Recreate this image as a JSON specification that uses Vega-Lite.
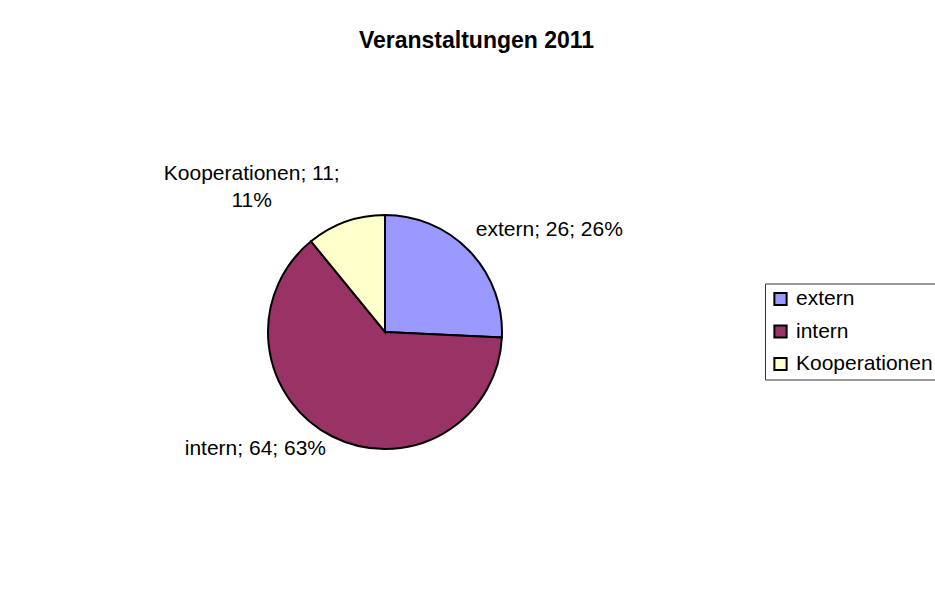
{
  "$schema": "https://vega.github.io/schema/vega-lite/v6.json",
  "autosize": "none",
  "width": 234,
  "height": 234,
  "padding": {"left": 268, "top": 215, "right": 433, "bottom": 140},
  "background": "white",
  "title": {
    "text": "Veranstaltungen 2011",
    "anchor": "middle",
    "frame": "group",
    "dx": 91.5,
    "offset": 110,
    "fontSize": 23,
    "fontWeight": "bold",
    "font": "Liberation Sans",
    "color": "black"
  },
  "data": {
    "values": [
      {"category": "extern", "n": 1, "value": 26, "label": "extern; 26; 26%", "label2": ""},
      {"category": "intern", "n": 2, "value": 64, "label": "intern; 64; 63%", "label2": ""},
      {"category": "Kooperationen", "n": 3, "value": 11, "label": "Kooperationen; 11;", "label2": "11%"}
    ]
  },
  "encoding": {
    "theta": {"field": "value", "type": "quantitative", "stack": true},
    "order": {"field": "n", "type": "quantitative"}
  },
  "layer": [
    {
      "mark": {"type": "arc", "stroke": "black", "strokeWidth": 2},
      "encoding": {
        "color": {
          "field": "category",
          "type": "nominal",
          "scale": {"domain": ["extern", "intern", "Kooperationen"], "range": ["#9999FF", "#993366", "#FFFFCC"]},
          "legend": {
            "orient": "none",
            "legendX": 497,
            "legendY": 68.5,
            "title": null,
            "strokeColor": "#333333",
            "padding": 5,
            "symbolType": "square",
            "symbolSize": 150,
            "symbolStrokeColor": "black",
            "symbolStrokeWidth": 2,
            "labelFontSize": 21,
            "labelFont": "Liberation Sans",
            "labelColor": "black",
            "labelOffset": 5,
            "rowPadding": 10.5,
            "labelLimit": 300
          }
        }
      }
    },
    {
      "mark": {"type": "text", "radius": 120, "align": "left", "baseline": "alphabetic", "dx": 4, "dy": -13, "fontSize": 21, "fill": "black"},
      "encoding": {
        "text": {"condition": {"test": "datum.category === 'extern'", "field": "label", "type": "nominal"}, "value": ""}
      }
    },
    {
      "mark": {"type": "text", "radius": 120, "align": "right", "baseline": "alphabetic", "dx": -5, "dy": 16, "fontSize": 21, "fill": "black"},
      "encoding": {
        "text": {"condition": {"test": "datum.category === 'intern'", "field": "label", "type": "nominal"}, "value": ""}
      }
    },
    {
      "mark": {"type": "text", "radius": 120, "align": "center", "baseline": "alphabetic", "dx": -93, "dy": -39, "fontSize": 21, "fill": "black"},
      "encoding": {
        "text": {"condition": {"test": "datum.category === 'Kooperationen'", "field": "label", "type": "nominal"}, "value": ""}
      }
    },
    {
      "mark": {"type": "text", "radius": 120, "align": "center", "baseline": "alphabetic", "dx": -93, "dy": -12.3, "fontSize": 21, "fill": "black"},
      "encoding": {
        "text": {"condition": {"test": "datum.category === 'Kooperationen'", "field": "label2", "type": "nominal"}, "value": ""}
      }
    }
  ],
  "config": {
    "view": {"stroke": null},
    "font": "Liberation Sans"
  }
}
